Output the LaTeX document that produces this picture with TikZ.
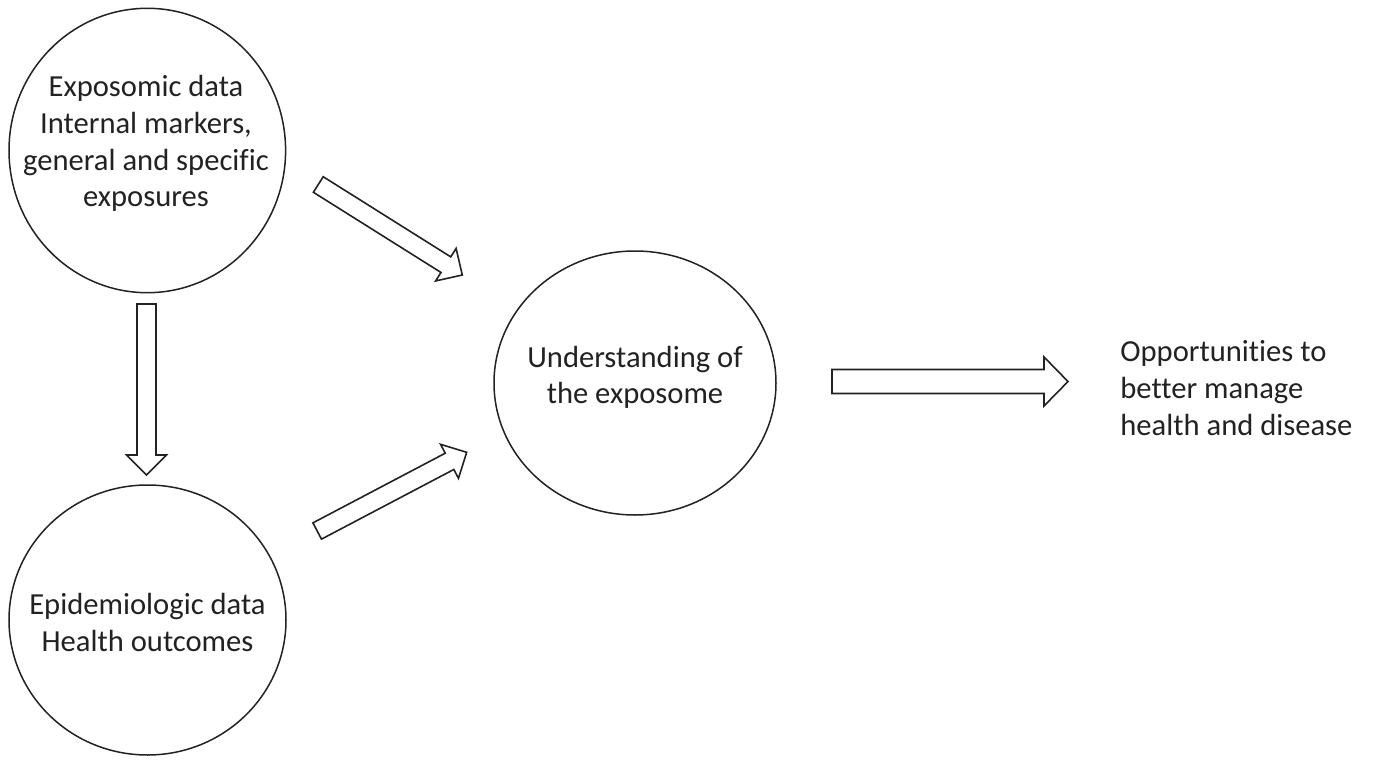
\documentclass[tikz,border=0pt]{standalone}
\usepackage{fontspec}
\setmainfont{Carlito}[Ligatures={NoCommon}]
\usetikzlibrary{shapes.geometric,calc}
\definecolor{ink}{HTML}{222222}
\tikzset{
  blob/.style={draw=ink, line width=0.75pt, ellipse, inner sep=0pt},
  txt/.style={align=center, text=ink, font=\fontsize{15.3pt}{18.35pt}\selectfont, inner sep=0pt},
  arrowline/.style={draw=ink, line width=0.8pt, line join=miter, fill=white}
}
\newcommand{\blkarrow}[5]{%
  \coordinate (ba-h) at ($(#2)!#5!(#1)$);
  \draw[arrowline] ($(#1)!#3!90:(#2)$) -- ($(ba-h)!#3!90:(#2)$) -- ($(ba-h)!#4!90:(#2)$) -- (#2)
     -- ($(ba-h)!#4!-90:(#2)$) -- ($(ba-h)!#3!-90:(#2)$) -- ($(#1)!#3!-90:(#2)$) -- cycle;
}
\begin{document}
\begin{tikzpicture}[x=0.5pt,y=-0.5pt]
\useasboundingbox[fill=white] (0,0) rectangle (1373,760);
% circles
\node[blob, minimum width=138.3pt, minimum height=142.2pt] (c1) at (147.3,150.5) {};
\node[blob, minimum width=138.5pt, minimum height=135pt] (c2) at (147.5,620) {};
\node[blob, minimum width=141pt, minimum height=132pt] (c3) at (635,383) {};
% texts
\node[txt] (t1) at (146,143.5) {Exposomic data\\Internal markers,\\general and specific\\exposures};
\node[txt] (t2) at (147.5,622.8) {Epidemiologic data\\Health outcomes};
\node[txt] (t3) at (635,377.3) {Understanding of\\the exposome};
\node[txt, align=left, anchor=west] (t4) at (1120,388) {Opportunities to\\better manage\\health and disease};
% arrow end points
\coordinate (a1s) at (146.5,304);
\coordinate (a1e) at (146.5,475);
\coordinate (a2s) at (318.3,184.5);
\coordinate (a2e) at (462.3,275);
\coordinate (a3s) at (317.2,531);
\coordinate (a3e) at (466.7,452.3);
\coordinate (a4s) at (832,381.5);
\coordinate (a4e) at (1068,381.5);
% block arrows
\blkarrow{a1s}{a1e}{4.75pt}{10pt}{10pt}
\blkarrow{a2s}{a2e}{4.6pt}{9.6pt}{9.7pt}
\blkarrow{a3s}{a3e}{4.6pt}{9.6pt}{9.7pt}
\blkarrow{a4s}{a4e}{6pt}{12.25pt}{12pt}
\end{tikzpicture}
\end{document}
